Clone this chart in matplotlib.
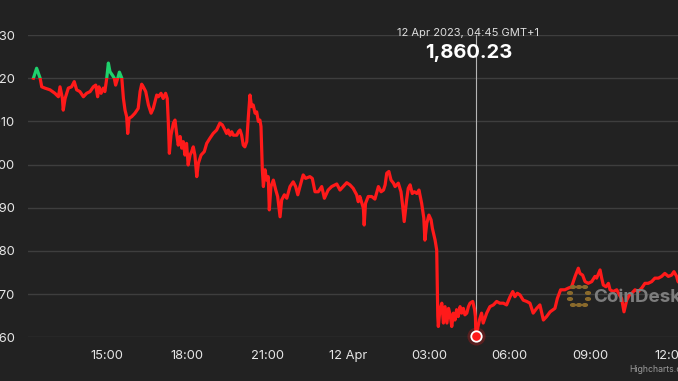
import matplotlib
matplotlib.use("Agg")
import matplotlib.pyplot as plt
from matplotlib.patches import Rectangle, Circle

# hours counted from 11 Apr 2023 00:00 (GMT+1), ETH price in USD
hours = [
    12.28, 12.40, 12.53, 12.59, 12.71, 12.90, 13.08, 13.21, 13.27, 13.36,
    13.39, 13.46, 13.58, 13.70, 13.80, 13.89, 14.01, 14.14, 14.26, 14.39,
    14.51, 14.60, 14.67, 14.72, 14.80, 14.88, 14.94, 15.01, 15.07, 15.13,
    15.22, 15.29, 15.34, 15.42, 15.48, 15.57, 15.63, 15.69, 15.75, 15.79,
    15.84, 15.94, 16.06, 16.18, 16.25, 16.31, 16.37, 16.46, 16.56, 16.66,
    16.74, 16.87, 16.93, 17.03, 17.11, 17.20, 17.26, 17.30, 17.34, 17.40,
    17.49, 17.55, 17.61, 17.67, 17.74, 17.80, 17.86, 17.92, 17.98, 18.04,
    18.11, 18.17, 18.23, 18.29, 18.36, 18.42, 18.52, 18.64, 18.73, 18.85,
    18.97, 19.10, 19.22, 19.31, 19.41, 19.47, 19.53, 19.60, 19.66, 19.72,
    19.85, 19.91, 19.97, 20.03, 20.09, 20.15, 20.22, 20.28, 20.34, 20.40,
    20.46, 20.53, 20.59, 20.65, 20.71, 20.75, 20.80, 20.84, 20.90, 20.96,
    21.02, 21.06, 21.12, 21.21, 21.30, 21.37, 21.46, 21.52, 21.62, 21.71,
    21.83, 21.95, 22.04, 22.12, 22.20, 22.32, 22.41, 22.57, 22.66, 22.76,
    22.88, 23.01, 23.11, 23.25, 23.38, 23.57, 23.69, 23.81, 23.94, 24.06,
    24.18, 24.31, 24.37, 24.43, 24.56, 24.59, 24.64, 24.74, 24.87, 24.99,
    25.12, 25.22, 25.31, 25.37, 25.43, 25.51, 25.59, 25.68, 25.74, 25.86,
    25.96, 26.02, 26.08, 26.17, 26.23, 26.30, 26.38, 26.46, 26.55, 26.63,
    26.73, 26.81, 26.85, 26.92, 27.00, 27.08, 27.13, 27.23, 27.29, 27.33,
    27.35, 27.41, 27.48, 27.54, 27.60, 27.67, 27.73, 27.79, 27.85, 27.91,
    27.97, 28.03, 28.09, 28.16, 28.22, 28.28, 28.34, 28.41, 28.47, 28.53,
    28.63, 28.70, 28.73, 28.75, 28.88, 28.96, 29.02, 29.15, 29.27, 29.40,
    29.52, 29.64, 29.77, 29.89, 30.02, 30.12, 30.20, 30.29, 30.39, 30.51,
    30.64, 30.76, 30.88, 31.01, 31.13, 31.26, 31.38, 31.51, 31.69, 31.78,
    31.90, 32.06, 32.19, 32.31, 32.44, 32.56, 32.62, 32.72, 32.81, 32.93,
    33.06, 33.18, 33.24, 33.37, 33.43, 33.49, 33.59, 33.68, 33.74, 33.86,
    33.99, 34.09, 34.17, 34.26, 34.36, 34.46, 34.55, 34.67, 34.79, 34.92,
    35.04, 35.16, 35.29, 35.41, 35.54, 35.66, 35.78, 35.91, 36.03, 36.12,
    36.22, 36.27, 36.35,
]
price = [
    1920.0, 1922.3, 1920.0, 1918.0, 1917.7, 1917.3, 1916.5, 1915.7, 1918.0, 1915.3,
    1912.6, 1915.3, 1917.7, 1918.0, 1919.2, 1917.3, 1916.9, 1915.7, 1916.5, 1916.9,
    1918.0, 1918.4, 1915.7, 1918.0, 1916.5, 1917.7, 1916.9, 1920.0, 1923.5, 1921.5,
    1920.7, 1920.0, 1918.4, 1920.0, 1921.4, 1920.0, 1915.3, 1912.6, 1911.1, 1907.2,
    1910.7, 1911.1, 1911.9, 1913.0, 1916.9, 1918.6, 1918.0, 1916.9, 1913.8, 1911.9,
    1913.0, 1916.1, 1915.7, 1916.5, 1915.3, 1916.5, 1915.3, 1910.0, 1902.6, 1906.8,
    1909.6, 1910.3, 1907.2, 1904.5, 1906.5, 1903.8, 1905.3, 1902.2, 1904.9, 1899.9,
    1902.2, 1903.0, 1904.1, 1902.2, 1897.2, 1900.3, 1902.2, 1903.0, 1904.9, 1906.1,
    1907.2, 1908.0, 1909.6, 1909.2, 1908.0, 1907.2, 1908.0, 1906.8, 1907.6, 1906.8,
    1906.8, 1907.6, 1908.0, 1906.8, 1904.5, 1904.1, 1905.3, 1911.1, 1916.1, 1913.4,
    1913.8, 1911.9, 1912.2, 1910.0, 1910.3, 1908.8, 1898.8, 1894.9, 1898.8, 1896.4,
    1897.2, 1889.5, 1894.9, 1896.4, 1894.1, 1892.6, 1887.9, 1891.8, 1893.0, 1892.2,
    1894.9, 1896.0, 1894.9, 1893.0, 1894.9, 1897.6, 1896.8, 1897.2, 1896.8, 1893.7,
    1893.7, 1894.9, 1892.2, 1894.1, 1894.9, 1895.5, 1894.1, 1894.9, 1895.8, 1895.3,
    1894.5, 1893.0, 1891.4, 1892.6, 1889.9, 1886.0, 1891.0, 1892.6, 1892.6, 1892.0,
    1894.9, 1893.7, 1894.1, 1895.3, 1898.0, 1898.4, 1896.4, 1895.7, 1894.9, 1895.7,
    1893.7, 1890.6, 1886.8, 1891.8, 1894.5, 1895.3, 1893.3, 1893.7, 1893.3, 1894.1,
    1891.0, 1887.6, 1882.5, 1886.4, 1888.3, 1887.2, 1885.2, 1882.5, 1880.2, 1864.8,
    1862.5, 1866.4, 1867.9, 1863.3, 1867.1, 1863.3, 1866.7, 1865.2, 1862.5, 1865.6,
    1864.0, 1866.4, 1864.8, 1867.1, 1865.6, 1866.7, 1865.2, 1865.6, 1867.1, 1867.9,
    1868.3, 1866.4, 1864.8, 1860.23, 1864.0, 1865.6, 1863.3, 1865.6, 1867.1, 1867.5,
    1868.3, 1867.9, 1867.9, 1867.5, 1869.4, 1870.6, 1869.4, 1870.2, 1869.8, 1868.6,
    1868.3, 1867.9, 1865.6, 1866.7, 1867.5, 1864.0, 1864.8, 1865.9, 1866.7, 1869.0,
    1871.0, 1871.0, 1871.4, 1871.7, 1874.1, 1876.0, 1874.8, 1874.4, 1872.9, 1872.5,
    1872.9, 1874.1, 1873.7, 1875.6, 1873.7, 1872.1, 1871.7, 1872.5, 1871.0, 1870.6,
    1871.0, 1869.8, 1869.0, 1865.9, 1868.6, 1869.8, 1870.2, 1871.0, 1870.6, 1871.4,
    1872.5, 1872.5, 1872.9, 1873.7, 1873.7, 1874.1, 1874.8, 1874.1, 1874.4, 1875.2,
    1874.1, 1872.9, 1872.5,
]

open_price = 1920.0
hover_hour = 28.75          # 12 Apr 2023, 04:45
hover_price = 1860.23

y_ticks = [1860, 1870, 1880, 1890, 1900, 1910, 1920, 1930]
y_labels = ["1,860", "1,870", "1,880", "1,890", "1,900", "1,910", "1,920", "1,930"]
x_ticks = [15, 18, 21, 24, 27, 30, 33, 36]
x_labels = ["15:00", "18:00", "21:00", "12 Apr", "03:00", "06:00", "09:00", "12:00"]

BG = "#222222"
RED = "#ff1a1a"
GREEN = "#1fd16c"
plt.rcParams["font.family"] = ["Inter", "DejaVu Sans"]

W, H = 678, 381
fig = plt.figure(figsize=(W / 100, H / 100), dpi=100, facecolor=BG)
ax = fig.add_axes([28 / W, (H - 337.3) / H, 650 / W, 302.3 / H])
ax.set_facecolor(BG)

x0, x1 = 12.079, 36.27
ax.set_xlim(x0, x1)
ax.set_ylim(1860, 1930)

for s in ax.spines.values():
    s.set_visible(False)
ax.set_yticks(y_ticks, y_labels)
ax.set_xticks(x_ticks, x_labels)
ax.tick_params(length=0, colors="#e6e6e6", labelsize=9.3)
ax.tick_params(axis="y", pad=9.4)
ax.tick_params(axis="x", pad=9)
ax.grid(axis="y", color="#3e3e3e", lw=1.0)
ax.grid(axis="x", visible=False)
ax.set_axisbelow(True)

# watermark (behind the line)
fig.text(593 / W, 1 - 297 / H, "CoinDesk", color="#7d7d7d", fontsize=13.5,
         fontweight="bold", va="center", ha="left", zorder=0.5)
logo_col = "#8a6a2c"
for (px, py) in [(573, 287), (579, 287), (585, 287), (570, 293), (570, 299),
                 (573, 305), (579, 305), (585, 305), (588, 293), (588, 299)]:
    fig.patches.append(Circle((px / W, 1 - py / H), 2.4 / W,
                              transform=fig.transFigure, color=logo_col,
                              zorder=0.5))

# line coloured by zone: green above opening price, red below
red_line, = ax.plot(hours, price, color=RED, lw=2.3, solid_joinstyle="round", zorder=3)
green_line, = ax.plot(hours, price, color=GREEN, lw=2.3, solid_joinstyle="round", zorder=3)
red_line.set_clip_path(Rectangle((x0 - 5, 1800), x1 - x0 + 10, open_price - 1800,
                                 transform=ax.transData))
green_line.set_clip_path(Rectangle((x0 - 5, open_price), x1 - x0 + 10, 100,
                                   transform=ax.transData))

# tooltip / crosshair
ax.axvline(hover_hour, color="#b5b5b5", lw=0.8, zorder=2)
ax.plot([hover_hour], [hover_price], "o", ms=13, color=RED, alpha=0.25, mec="none",
        zorder=4, clip_on=False)
ax.plot([hover_hour], [hover_price], "o", ms=7.5, color=RED, mec="white", mew=1.3,
        zorder=5, clip_on=False)
fig.text(468.5 / W, 1 - 33.3 / H, "12 Apr 2023, 04:45 GMT+1", color="#dddddd",
         fontsize=8, ha="center", va="center")
fig.text(468.5 / W, 1 - 53.3 / H, f"{hover_price:,.2f}", color="white",
         fontsize=14.5, fontweight="bold", ha="center", va="center")

fig.text(629 / W, 1 - 369 / H, "Highcharts.com", color="#9a9a9a", fontsize=6.3,
         ha="left", va="center")

fig.savefig("out.png", dpi=100, facecolor=BG)
